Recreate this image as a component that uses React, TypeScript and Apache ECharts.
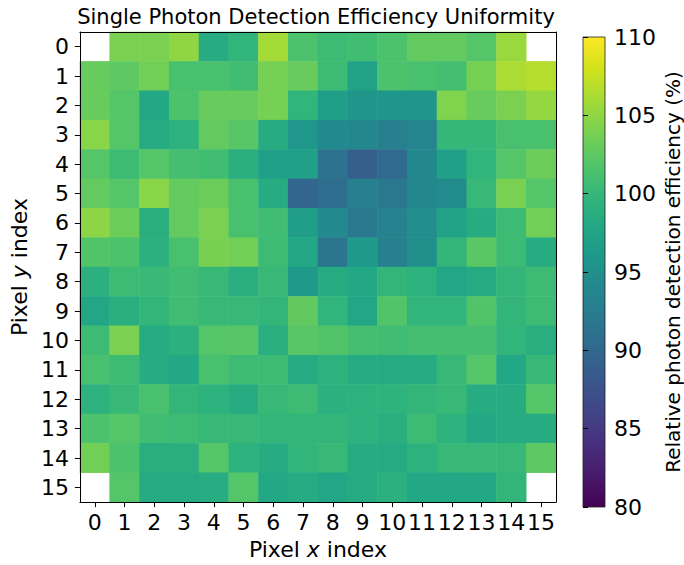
import React, { useEffect, useRef } from "react";
import * as echarts from "echarts";

const xLabels = ["0", "1", "2", "3", "4", "5", "6", "7", "8", "9", "10", "11", "12", "13", "14", "15"];
const yLabels = ["0", "1", "2", "3", "4", "5", "6", "7", "8", "9", "10", "11", "12", "13", "14", "15"];

const row0 = [null, 104, 104, 105, 98.5, 99.7, 106, 101.5, 100.5, 100.8, 101.5, 102.8, 102.8, 102, 105.5, null];
const row1 = [103, 102.5, 103.5, 101.3, 101.3, 100.8, 103.8, 103, 100.5, 97.3, 101.5, 101.3, 101, 103.8, 106.2, 106.7];
const row2 = [103, 102, 98, 101.5, 103, 103, 103.8, 99.7, 96.8, 95.7, 95.8, 95.8, 104.3, 103, 104, 105.2];
const row3 = [104.7, 102, 98.3, 99.3, 102.8, 102.2, 98.5, 96, 94.3, 94, 93, 93.5, 100, 100, 101.3, 101.3];
const row4 = [102, 100.5, 102, 101, 100.8, 98.8, 97, 97, 91.2, 89, 90.3, 94, 97, 99.7, 102, 103.2];
const row5 = [102.8, 102, 104.7, 102.8, 103.2, 101.3, 98.5, 89.8, 90.7, 93, 92, 94, 94.5, 100.2, 104, 102];
const row6 = [104.8, 103.2, 98.8, 102.8, 104, 101.3, 100.7, 96.7, 94.3, 92, 93.2, 94.7, 97.2, 98.5, 100.5, 103.5];
const row7 = [101.8, 101.5, 99, 101.3, 103.9, 103.6, 100.5, 98, 91.8, 96.2, 93, 95, 99.8, 102.3, 100.5, 98.5];
const row8 = [99, 100.5, 100.3, 100.7, 100.2, 98.8, 100.2, 96.2, 98.5, 98, 99.8, 99.3, 97.7, 98.3, 99.8, 100.5];
const row9 = [97.8, 98.8, 99.8, 100.7, 100.2, 100.2, 99.8, 102.7, 99.7, 97.8, 101.8, 99.7, 99.7, 101.8, 99.8, 100.5];
const row10 = [100.5, 104, 98.5, 99, 102, 102.2, 98.8, 102.2, 101.8, 101, 100.7, 101, 101, 101, 99.7, 98.8];
const row11 = [101.3, 100.5, 98.5, 98, 101.3, 100.5, 100.5, 98.3, 99.3, 98.3, 98.3, 98.5, 100.2, 102, 98, 100.2];
const row12 = [99.3, 100.2, 101.3, 99.8, 99.3, 98.5, 100.2, 100.5, 99, 99.3, 99.4, 99.8, 100.2, 98.5, 98.5, 102];
const row13 = [101.5, 102, 100.7, 100.5, 100.2, 100.2, 99.8, 99.8, 99.8, 99.3, 98.8, 100.5, 99.3, 98, 98.5, 98.5];
const row14 = [103.6, 101.5, 98.8, 98.8, 102, 99.3, 98.5, 99.7, 100.2, 98.3, 98.3, 99.2, 100.2, 100.2, 100.2, 102.5];
const row15 = [null, 102, 98.3, 98.3, 98.6, 102, 98, 98.4, 97.8, 98.3, 99, 98, 98, 98, 99.8, null];

const rows = [row0, row1, row2, row3, row4, row5, row6, row7, row8, row9, row10, row11, row12, row13, row14, row15];

const colorMin = 80;
const colorMax = 110;
const colorTickStep = 5;

const viridis = [
  "#440154", "#481A6C", "#472F7D", "#414487", "#39568C", "#31688E", "#2A788E", "#23888E",
  "#1F988B", "#22A884", "#35B779", "#54C568", "#7AD151", "#A5DB36", "#D2E21B", "#FDE725",
];

const FONT = "DejaVu Sans";

export default function App() {
  const ref = useRef<HTMLDivElement>(null);
  useEffect(() => {
    document.body.style.margin = "0";
    const chart = echarts.init(ref.current as HTMLDivElement, null, { renderer: "svg" });
    const data: any[] = [];
    rows.forEach((row, y) =>
      row.forEach((v, x) => {
        if (v !== null) data.push([x, y, v]);
      })
    );
    const stops = viridis.map((c, i) => ({ offset: i / (viridis.length - 1), color: c }));
    const axisLineStyle = { color: "#000", width: 1 };
    chart.setOption({
      animation: false,
      backgroundColor: "#fff",
      title: {
        text: "Single Photon Detection Efficiency Uniformity",
        left: 316,
        top: 6,
        padding: 0,
        textAlign: "center",
        textStyle: { fontSize: 21, fontWeight: "normal", color: "#000", fontFamily: FONT },
      },
      grid: [
        { left: 78, top: 32, width: 478, height: 479 },
        { left: 583, top: 37, width: 24, height: 470 },
      ],
      visualMap: {
        type: "continuous",
        show: false,
        min: colorMin,
        max: colorMax,
        dimension: 2,
        seriesIndex: 0,
        inRange: { color: viridis },
      },
      xAxis: [
        {
          type: "category",
          gridIndex: 0,
          data: xLabels,
          position: "bottom",
          z: 10,
          axisLine: { show: true, lineStyle: axisLineStyle },
          axisTick: { show: true, alignWithLabel: true, length: 5, lineStyle: axisLineStyle },
          axisLabel: { fontSize: 22, color: "#000", fontFamily: FONT, margin: 9, interval: 0 },
          splitLine: { show: false },
          name: "Pixel {i|x} index",
          nameLocation: "middle",
          nameGap: 33,
          nameTextStyle: {
            fontSize: 22,
            color: "#000",
            fontFamily: FONT,
            verticalAlign: "top",
            rich: { i: { fontSize: 22, fontStyle: "italic", color: "#000", fontFamily: FONT } },
          },
        },
        {
          type: "category",
          gridIndex: 0,
          data: xLabels,
          position: "top",
          z: 10,
          axisLine: { show: true, lineStyle: axisLineStyle },
          axisTick: { show: false },
          axisLabel: { show: false },
        },
        { type: "value", gridIndex: 1, min: 0, max: 1, show: false },
      ],
      yAxis: [
        {
          type: "category",
          gridIndex: 0,
          data: yLabels,
          inverse: true,
          position: "left",
          z: 10,
          axisLine: { show: true, lineStyle: axisLineStyle },
          axisTick: { show: true, alignWithLabel: true, length: 5, lineStyle: axisLineStyle },
          axisLabel: { fontSize: 22, color: "#000", fontFamily: FONT, margin: 11, interval: 0 },
          splitLine: { show: false },
          name: "Pixel {i|y} index",
          nameLocation: "middle",
          nameGap: 45,
          nameRotate: 90,
          nameTextStyle: {
            fontSize: 22,
            color: "#000",
            fontFamily: FONT,
            rich: { i: { fontSize: 22, fontStyle: "italic", color: "#000", fontFamily: FONT } },
          },
        },
        {
          type: "category",
          gridIndex: 0,
          data: yLabels,
          inverse: true,
          position: "right",
          z: 10,
          axisLine: { show: true, lineStyle: axisLineStyle },
          axisTick: { show: false },
          axisLabel: { show: false },
        },
        {
          type: "value",
          gridIndex: 1,
          min: colorMin,
          max: colorMax,
          interval: colorTickStep,
          position: "right",
          z: 10,
          axisLine: { show: false },
          axisTick: { show: true, length: 5, lineStyle: axisLineStyle },
          axisLabel: { fontSize: 22, color: "#000", fontFamily: FONT, margin: 9 },
          splitLine: { show: false },
          name: "Relative photon detection efficiency (%)",
          nameLocation: "middle",
          nameRotate: 90,
          nameGap: 58,
          nameTextStyle: { fontSize: 20, color: "#000", fontFamily: FONT },
        },
      ],
      series: [
        {
          type: "heatmap",
          xAxisIndex: 0,
          yAxisIndex: 0,
          data,
          emphasis: { disabled: true },
          progressive: 0,
        },
        {
          type: "custom",
          xAxisIndex: 2,
          yAxisIndex: 2,
          clip: false,
          data: [[0, colorMin, colorMax]],
          renderItem: (params: any, api: any) => {
            const p0 = api.coord([0, api.value(1)]);
            const p1 = api.coord([1, api.value(2)]);
            return {
              type: "rect",
              shape: { x: p0[0], y: p1[1], width: p1[0] - p0[0], height: p0[1] - p1[1] },
              style: {
                fill: new echarts.graphic.LinearGradient(0, 1, 0, 0, stops),
                stroke: "#222",
                lineWidth: 0.8,
              },
            };
          },
        },
      ],
    });
    return () => chart.dispose();
  }, []);
  return <div ref={ref} style={{ width: 684, height: 565 }} />;
}
